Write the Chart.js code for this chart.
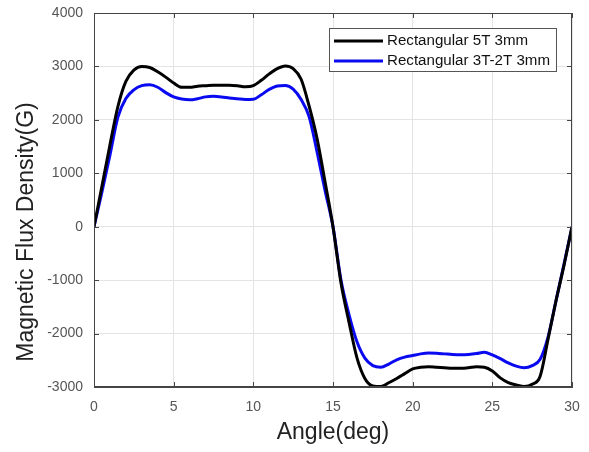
<!DOCTYPE html>
<html>
<head>
<meta charset="utf-8">
<script src="https://cdn.jsdelivr.net/npm/chart.js@4.4.1/dist/chart.umd.min.js"></script>
<style>
    html, body { margin: 0; padding: 0; background: #fff; }
    #wrap { width: 589px; height: 452px; }
</style>
</head>
<body>
<div id="wrap"><canvas id="fluxChart" width="589" height="452"></canvas></div>
<script>
    // angle (deg)
    const angles = [0, 0.5, 1, 1.5, 2, 2.5, 3, 3.5, 4, 4.5, 5, 5.5, 6, 6.5, 7, 7.5, 8, 8.5, 9, 9.5,
        10, 10.5, 11, 11.5, 12, 12.5, 13, 13.5, 14, 14.5, 15, 15.5, 16, 16.5, 17, 17.5, 18, 18.5, 19, 19.5,
        20, 20.5, 21, 21.5, 22, 22.5, 23, 23.5, 24, 24.5, 25, 25.5, 26, 26.5, 27, 27.5, 28, 28.5, 29, 29.5, 30];

    // Rectangular 5T 3mm
    const flux5T = [0, 760, 1530, 2250, 2720, 2930, 3000, 2980, 2900, 2800,
        2690, 2610, 2610, 2630, 2640, 2650, 2650, 2650, 2640, 2620,
        2640, 2740, 2860, 2960, 3010, 2960, 2760, 2260, 1650, 840,
        0, -1050, -1780, -2450, -2840, -2980, -2990, -2920, -2840, -2750,
        -2660, -2630, -2620, -2630, -2640, -2650, -2650, -2640, -2620, -2630,
        -2700, -2830, -2920, -2960, -2990, -2950, -2800, -2100, -1380, -720, 0];

    // Rectangular 3T-2T 3mm
    const flux3T2T = [0, 650, 1340, 2050, 2400, 2560, 2640, 2655, 2610, 2510,
        2430, 2390, 2375, 2395, 2430, 2440, 2430, 2410, 2395, 2380,
        2385, 2470, 2570, 2635, 2645, 2575, 2380, 2060, 1400, 680,
        0, -1000, -1640, -2150, -2460, -2600, -2630, -2570, -2490, -2440,
        -2410, -2380, -2365, -2370, -2380, -2390, -2395, -2390, -2375, -2350,
        -2400, -2470, -2550, -2610, -2640, -2600, -2480, -2060, -1380, -700, 0];

    const seriesNames = ['Rectangular 5T 3mm', 'Rectangular 3T-2T 3mm'];
    const xTicks = [0, 5, 10, 15, 20, 25, 30];
    const yTicks = [-3000, -2000, -1000, 0, 1000, 2000, 3000, 4000];

    const fontFamily = '"Liberation Sans", Arial, sans-serif';

    function toPoints(values) {
        return values.map((v, i) => ({ x: angles[i], y: v }));
    }

    // frame, inward ticks, y title and boxed legend (matlab style)
    const matlabDecor = {
        id: 'matlabDecor',
        afterDraw(chart) {
            const ctx = chart.ctx;
            const a = chart.chartArea;
            const xs = chart.scales.x;
            const ys = chart.scales.y;
            ctx.save();

            ctx.strokeStyle = '#444';
            ctx.lineWidth = 1;
            ctx.strokeRect(a.left + 0.5, a.top + 0.5, a.right - a.left - 1, a.bottom - a.top - 1);

            ctx.beginPath();
            xTicks.forEach((t) => {
                const px = Math.round(xs.getPixelForValue(t)) + 0.5;
                ctx.moveTo(px, a.bottom); ctx.lineTo(px, a.bottom - 5);
                ctx.moveTo(px, a.top); ctx.lineTo(px, a.top + 5);
            });
            yTicks.forEach((t) => {
                const py = Math.round(ys.getPixelForValue(t)) + 0.5;
                ctx.moveTo(a.left, py); ctx.lineTo(a.left + 5, py);
                ctx.moveTo(a.right, py); ctx.lineTo(a.right - 5, py);
            });
            ctx.stroke();

            // y axis title
            ctx.fillStyle = '#222';
            ctx.font = '23px ' + fontFamily;
            ctx.textAlign = 'center';
            ctx.textBaseline = 'middle';
            ctx.translate(27, 232);
            ctx.rotate(-Math.PI / 2);
            ctx.fillText('Magnetic Flux Density(G)', 0, 0);
            ctx.restore();

            // legend
            ctx.save();
            const bx = 329, by = 28, bw = 227, bh = 43;
            ctx.fillStyle = '#fff';
            ctx.fillRect(bx, by, bw, bh);
            ctx.strokeStyle = '#555';
            ctx.lineWidth = 1;
            ctx.strokeRect(bx + 0.5, by + 0.5, bw, bh);
            ctx.font = '14px ' + fontFamily;
            ctx.textBaseline = 'middle';
            chart.data.datasets.forEach((ds, i) => {
                const ly = 41 + i * 20;
                ctx.strokeStyle = ds.borderColor;
                ctx.lineWidth = 3;
                ctx.beginPath();
                ctx.moveTo(334, ly);
                ctx.lineTo(383, ly);
                ctx.stroke();
                ctx.save();
                ctx.translate(387, ly);
                ctx.scale(1.08, 1);
                ctx.fillStyle = '#111';
                ctx.fillText(ds.label, 0, 0);
                ctx.restore();
            });
            ctx.restore();
        }
    };

    const ctxFlux = document.getElementById('fluxChart').getContext('2d');

    const fluxChart = new Chart(ctxFlux, {
        type: 'line',
        data: {
            datasets: [{
                label: seriesNames[0],
                data: toPoints(flux5T),
                borderColor: '#000000',
                borderWidth: 3,
                pointRadius: 0,
                cubicInterpolationMode: 'monotone',
                fill: false
            }, {
                label: seriesNames[1],
                data: toPoints(flux3T2T),
                borderColor: '#0a0af0',
                borderWidth: 3,
                pointRadius: 0,
                cubicInterpolationMode: 'monotone',
                fill: false
            }]
        },
        options: {
            responsive: false,
            animation: false,
            layout: {
                padding: { top: 13, right: 17, left: 0, bottom: 0 }
            },
            plugins: {
                legend: { display: false },
                tooltip: { enabled: false }
            },
            scales: {
                x: {
                    type: 'linear',
                    min: 0,
                    max: 30,
                    afterBuildTicks: (scale) => { scale.ticks = xTicks.map(v => ({ value: v })); },
                    afterFit: (scale) => {
                        scale.height = 65;
                        scale.paddingLeft = 0;
                        scale.paddingRight = 0;
                    },
                    grid: { color: '#e4e4e4', drawTicks: false },
                    border: { color: '#444' },
                    ticks: {
                        padding: 12,
                        color: '#555',
                        font: { family: fontFamily, size: 14 },
                        callback: (v) => String(v)
                    },
                    title: {
                        display: true,
                        text: 'Angle(deg)',
                        color: '#222',
                        padding: { top: 4, bottom: 6 },
                        font: { family: fontFamily, size: 23 }
                    }
                },
                y: {
                    min: -3000,
                    max: 4000,
                    afterBuildTicks: (scale) => { scale.ticks = yTicks.map(v => ({ value: v })); },
                    afterFit: (scale) => {
                        scale.width = 94;
                        scale.paddingTop = 0;
                        scale.paddingBottom = 0;
                    },
                    grid: { color: '#e4e4e4', drawTicks: false },
                    border: { color: '#444' },
                    ticks: {
                        padding: 11,
                        color: '#555',
                        font: { family: fontFamily, size: 14 },
                        callback: (v) => String(v)
                    }
                }
            }
        },
        plugins: [matlabDecor]
    });
</script>
</body>
</html>
